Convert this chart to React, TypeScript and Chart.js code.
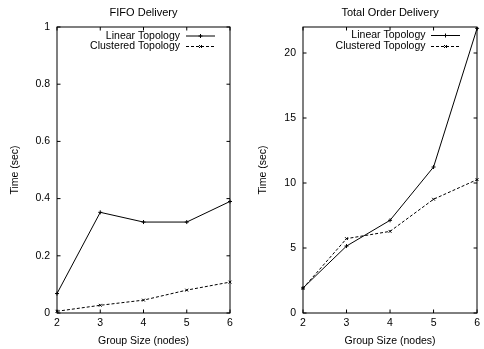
import React, { useEffect, useRef } from 'react';
import { Chart, registerables } from 'chart.js';

Chart.register(...registerables);

const categories = ['2', '3', '4', '5', '6'];
const fifoLinear = [0.068, 0.352, 0.318, 0.318, 0.39];
const fifoClustered = [0.006, 0.027, 0.045, 0.08, 0.108];
const totalLinear = [1.92, 5.15, 7.13, 11.23, 21.9];
const totalClustered = [1.9, 5.72, 6.28, 8.75, 10.26];
const seriesNames = ['Linear Topology', 'Clustered Topology'];

const FAMILY = '"Liberation Sans", Arial, Helvetica, sans-serif';
const INK = '#000';

function drawMarker(ctx: CanvasRenderingContext2D, style: string, x: number, y: number, r: number) {
  ctx.beginPath();
  if (style === 'cross' || style === 'star') {
    ctx.moveTo(x - r, y); ctx.lineTo(x + r, y);
    ctx.moveTo(x, y - r); ctx.lineTo(x, y + r);
  }
  if (style === 'crossRot' || style === 'star') {
    const d = r * 0.75;
    ctx.moveTo(x - d, y - d); ctx.lineTo(x + d, y + d);
    ctx.moveTo(x - d, y + d); ctx.lineTo(x + d, y - d);
  }
  ctx.stroke();
}

const gnuplotPlugin = {
  id: 'gp',
  afterDatasetsDraw(chart: any, _args: any, opts: any) {
    const { ctx, chartArea, scales } = chart;
    const { left, right, top, bottom } = chartArea;
    ctx.save();
    ctx.strokeStyle = INK;
    ctx.lineWidth = 1;
    ctx.setLineDash([]);
    ctx.strokeRect(Math.round(left), Math.round(top), Math.round(right - left), Math.round(bottom - top));
    const tl = 3.5;
    ctx.beginPath();
    scales.x.ticks.forEach((_t: any, i: number) => {
      const px = scales.x.getPixelForTick(i);
      ctx.moveTo(px, bottom); ctx.lineTo(px, bottom - tl);
      ctx.moveTo(px, top); ctx.lineTo(px, top + tl);
    });
    scales.y.ticks.forEach((t: any) => {
      const py = scales.y.getPixelForValue(t.value);
      ctx.moveTo(left, py); ctx.lineTo(left + tl, py);
      ctx.moveTo(right, py); ctx.lineTo(right - tl, py);
    });
    ctx.stroke();

    // title centred over the plot
    ctx.fillStyle = INK;
    ctx.textAlign = 'center';
    ctx.textBaseline = 'middle';
    ctx.font = `11px ${FAMILY}`;
    ctx.fillText(opts.title, (left + right) / 2, opts.titleY);

    // key
    ctx.font = `10.5px ${FAMILY}`;
    ctx.textAlign = 'right';
    chart.data.datasets.forEach((ds: any, i: number) => {
      const y = opts.rows[i];
      ctx.fillText(ds.label, opts.textRight, y);
      ctx.setLineDash(ds.borderDash || []);
      ctx.beginPath();
      ctx.moveTo(opts.sampleLeft, y);
      ctx.lineTo(opts.sampleRight, y);
      ctx.stroke();
      ctx.setLineDash([]);
      drawMarker(ctx, ds.pointStyle, (opts.sampleLeft + opts.sampleRight) / 2, y, ds.pointRadius);
    });
    ctx.restore();
  },
};

type PanelSpec = {
  title: string;
  linear: number[];
  clustered: number[];
  yMax: number;
  yStep: number;
  yTickMax: number;
  yWidth: number;
  yTitlePad: number;
  rightPad: number;
  key: { textRight: number; sampleLeft: number; sampleRight: number; rows: number[] };
};

function makeConfig(p: PanelSpec): any {
  const tickFont = { family: FAMILY, size: 10.5 };
  return {
    type: 'line',
    data: {
      labels: categories,
      datasets: [
        {
          label: seriesNames[0],
          data: p.linear,
          borderColor: INK,
          backgroundColor: INK,
          borderWidth: 1,
          pointStyle: 'cross',
          pointRadius: 2,
          pointBorderWidth: 1,
          tension: 0,
          fill: false,
        },
        {
          label: seriesNames[1],
          data: p.clustered,
          borderColor: INK,
          backgroundColor: INK,
          borderWidth: 1,
          borderDash: [3, 2],
          pointStyle: 'crossRot',
          pointRadius: 2,
          pointBorderWidth: 1,
          tension: 0,
          fill: false,
        },
      ],
    },
    options: {
      animation: false,
      responsive: false,
      events: [],
      layout: { autoPadding: false, padding: { left: 0, right: p.rightPad, top: 27, bottom: 0 } },
      plugins: {
        legend: { display: false },
        tooltip: { enabled: false },
        title: { display: false },
        gp: { ...p.key, title: p.title, titleY: 12.7 },
      },
      scales: {
        x: {
          type: 'category',
          offset: false,
          grid: { display: false, drawTicks: false },
          border: { display: false },
          ticks: { padding: 4, font: tickFont, color: INK, maxRotation: 0, autoSkip: false },
          title: {
            display: true,
            text: 'Group Size (nodes)',
            color: INK,
            font: tickFont,
            padding: { top: 0, bottom: 1.7 },
          },
          afterFit: (s: any) => { s.height = 36; },
        },
        y: {
          type: 'linear',
          min: 0,
          max: p.yMax,
          grid: { display: false, drawTicks: false },
          border: { display: false },
          ticks: {
            stepSize: p.yStep,
            padding: 7,
            font: tickFont,
            color: INK,
            callback: (v: any) => String(+Number(v).toFixed(3)),
          },
          title: {
            display: true,
            text: 'Time (sec)',
            color: INK,
            font: tickFont,
            padding: { top: p.yTitlePad, bottom: 0 },
          },
          afterBuildTicks: (s: any) => { s.ticks = s.ticks.filter((t: any) => t.value <= p.yTickMax + 1e-9); },
          afterFit: (s: any) => { s.width = p.yWidth; },
        },
      },
    },
    plugins: [gnuplotPlugin],
  };
}

function Panel({ spec, left }: { spec: PanelSpec; left: number }) {
  const ref = useRef<HTMLCanvasElement>(null);
  useEffect(() => {
    const chart = new Chart(ref.current as HTMLCanvasElement, makeConfig(spec));
    return () => chart.destroy();
  }, []);
  return (
    <canvas
      ref={ref}
      width={242}
      height={349}
      style={{ position: 'absolute', left, top: 0, width: 242, height: 349 }}
    />
  );
}

const fifoSpec: PanelSpec = {
  title: 'FIFO Delivery',
  linear: fifoLinear,
  clustered: fifoClustered,
  yMax: 1,
  yStep: 0.2,
  yTickMax: 1,
  yWidth: 57,
  yTitlePad: 8.7,
  rightPad: 12,
  key: { textRight: 180, sampleLeft: 186, sampleRight: 215, rows: [36, 46.5] },
};

const totalSpec: PanelSpec = {
  title: 'Total Order Delivery',
  linear: totalLinear,
  clustered: totalClustered,
  yMax: 22,
  yStep: 5,
  yTickMax: 20,
  yWidth: 61,
  yTitlePad: 14.7,
  rightPad: 0.7,
  key: { textRight: 183.5, sampleLeft: 189, sampleRight: 218, rows: [35.5, 46.5] },
};

export default function App() {
  return (
    <div style={{ position: 'absolute', left: 0, top: 0, width: 484, height: 349, background: '#fff' }}>
      <Panel spec={fifoSpec} left={0} />
      <Panel spec={totalSpec} left={242} />
    </div>
  );
}
